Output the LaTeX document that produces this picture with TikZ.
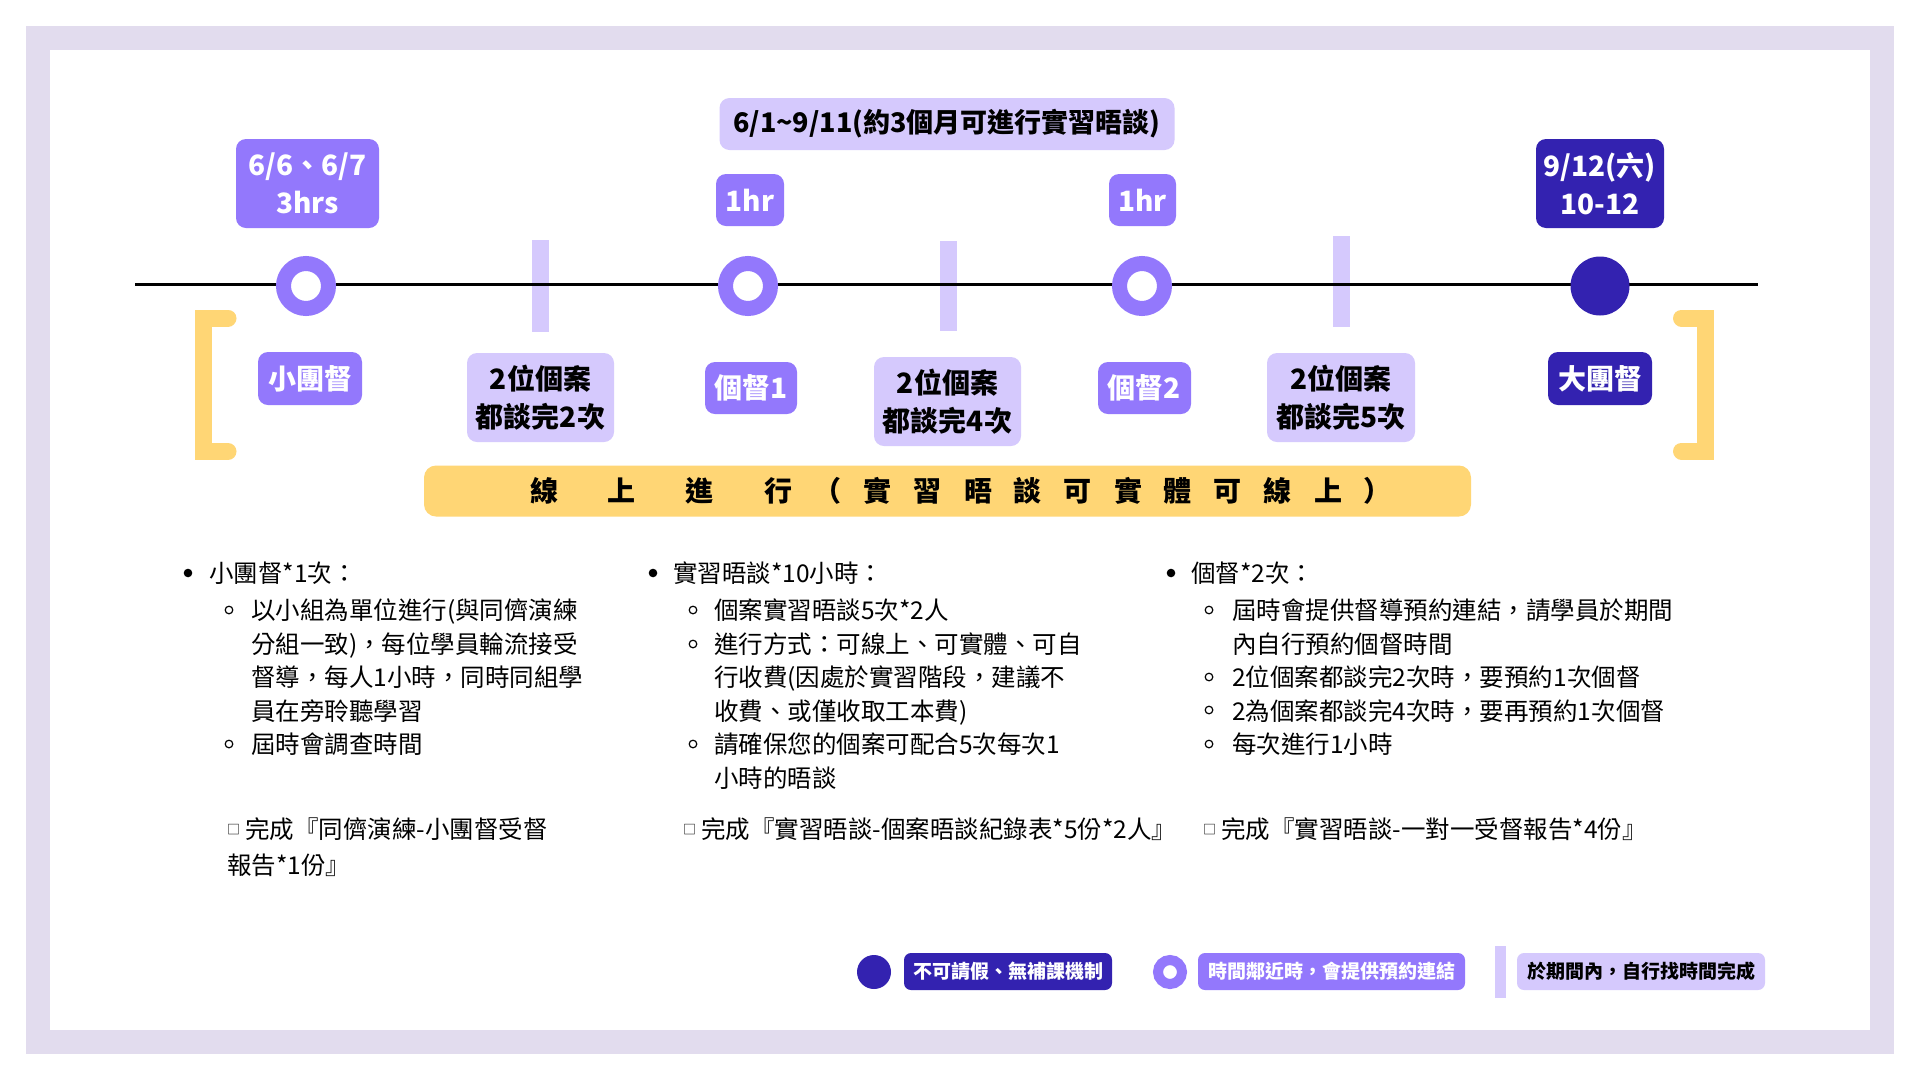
\documentclass[tikz,border=0pt]{standalone}
\usepackage{fontspec}
\setmainfont{Noto Sans CJK TC}
\definecolor{framecol}{HTML}{E2DCEE}
\definecolor{midpurple}{HTML}{9378FC}
\definecolor{lightpurple}{HTML}{D5C9FD}
\definecolor{darkpurple}{HTML}{3322B0}
\definecolor{bannercol}{HTML}{FFD675}
\newcommand{\wgap}{\hspace{50pt}}
\newcommand{\ngap}{\hspace{22pt}}
\newcommand{\sqbox}{\raisebox{4pt}{\fontsize{13}{13}\selectfont □}\hspace{5pt}}
\tikzset{
  tag/.style={rounded corners=10pt,inner sep=0pt,align=center,font=\fontsize{28}{38}\selectfont\bfseries},
  midtag/.style={tag,fill=midpurple,text=white},
  lighttag/.style={tag,fill=lightpurple,text=black},
  darktag/.style={tag,fill=darkpurple,text=white},
  keytag/.style={rounded corners=7pt,inner sep=0pt,minimum height=37pt,font=\fontsize{19}{19}\selectfont\bfseries},
  ring/.style={circle,draw=midpurple,fill=white,inner sep=0pt},
  dot/.style={circle,fill=darkpurple,inner sep=0pt},
  bar/.style={rectangle,fill=lightpurple,inner sep=0pt},
  body/.style={anchor=base west,inner sep=0pt,align=left,font=\fontsize{24.5}{33.5}\selectfont},
  todo/.style={anchor=base west,inner sep=0pt,align=left,font=\fontsize{24.5}{36}\selectfont},
  bracket/.style={draw=bannercol,line width=17pt,line cap=round},
}
\begin{document}
\begin{tikzpicture}[x=1pt,y=-1pt]
\pgfmathsetmacro{\ktly}{286}
\pgfmathsetmacro{\kring}{15}
\useasboundingbox (0,0) rectangle (1920,1080);
\fill[framecol] (26,26) rectangle (1894,1054);
\fill[white] (50,50) rectangle (1870,1030);

\node[lighttag,minimum width=455pt,minimum height=52pt] (period) at (947,124) {\fontsize{27}{27}\selectfont 6/1\textasciitilde 9/11(約3個月可進行實習晤談)};
\node[midtag,minimum width=143pt,minimum height=89pt] (d67) at (307.5,183.5) {6/6、6/7\\3hrs};
\node[midtag,minimum width=68pt,minimum height=52pt] (hr1) at (750,200) {1hr};
\node[midtag,minimum width=67pt,minimum height=52pt] (hr2) at (1142.5,200) {1hr};
\node[darktag,minimum width=128pt,minimum height=89pt] (d912) at (1600,183.5) {9/12(六)\\10-12};

\coordinate (tlstart) at (135,284.5);
\coordinate (tlend) at (1758,284.5);
\node[bar,minimum width=17pt,minimum height=92pt] (bar1) at (540,286) {};
\node[bar,minimum width=17pt,minimum height=90pt] (bar2) at (948,286) {};
\node[bar,minimum width=17pt,minimum height=91pt] (bar3) at (1341,281.5) {};
\draw[line width=3pt] (tlstart) -- (tlend);
\node[ring,line width=\kring pt,minimum size=45pt] (r1) at (306,\ktly) {};
\node[ring,line width=\kring pt,minimum size=45pt] (r2) at (748,\ktly) {};
\node[ring,line width=\kring pt,minimum size=45pt] (r3) at (1142,\ktly) {};
\node[dot,minimum size=59pt] (big) at (1600,\ktly) {};

\draw[bracket,line join=miter] (228,318) -- (203.5,318) -- (203.5,451.5) -- (228,451.5);
\draw[bracket,line join=miter] (1681.5,318) -- (1705.5,318) -- (1705.5,451) -- (1681.5,451);

\node[midtag,minimum width=104pt,minimum height=53pt] (small) at (310,378.5) {小團督};
\node[lighttag,minimum width=147pt,minimum height=89pt] (case2) at (540.5,397.5) {2位個案\\都談完2次};
\node[midtag,minimum width=92pt,minimum height=52pt] (ind1) at (751,388) {個督1};
\node[lighttag,minimum width=147pt,minimum height=89pt] (case4) at (947.5,401.5) {2位個案\\都談完4次};
\node[midtag,minimum width=93pt,minimum height=52pt] (ind2) at (1144.5,388) {個督2};
\node[lighttag,minimum width=148pt,minimum height=89pt] (case5) at (1341,397.5) {2位個案\\都談完5次};
\node[darktag,minimum width=104pt,minimum height=53pt] (group) at (1600,378.5) {大團督};

\node[rounded corners=12pt,fill=bannercol,minimum width=1047pt,minimum height=51pt] (banner) at (947.5,491) {};
\node[inner sep=0pt,font=\fontsize{28}{28}\selectfont\bfseries] (bannertext) at (961,491) {線\wgap 上\wgap 進\wgap 行\ngap （\ngap 實\ngap 習\ngap 晤\ngap 談\ngap 可\ngap 實\ngap 體\ngap 可\ngap 線\ngap 上\ngap ）};

\fill (188,573) circle (4.3) (653,573) circle (4.3) (1171,573) circle (4.3);
\foreach \bx/\by in {229/610,229/744,693/610,693/644,693/744,1209/610,1209/677,1209/710,1209/744}
  \draw[line width=1.2pt] (\bx,\by) circle (3.8);

\node[body] (c1h) at (209,582) {小團督*1次：};
\node[body] (c1a) at (251,720) {以小組為單位進行(與同儕演練\\分組一致)，每位學員輪流接受\\督導，每人1小時，同時同組學\\員在旁聆聽學習};
\node[body] (c1b) at (251,753.5) {屆時會調查時間};
\node[todo] (c1t) at (227,874) {\sqbox 完成『同儕演練-小團督受督\\報告*1份』};

\node[body] (c2h) at (673,582) {實習晤談*10小時：};
\node[body] (c2a) at (714,619.5) {個案實習晤談5次*2人};
\node[body] (c2b) at (714,720) {進行方式：可線上、可實體、可自\\行收費(因處於實習階段，建議不\\收費、或僅收取工本費)};
\node[body] (c2c) at (714,787) {請確保您的個案可配合5次每次1\\小時的晤談};
\node[todo] (c2t) at (683,838) {\sqbox 完成『實習晤談-個案晤談紀錄表*5份*2人』};

\node[body] (c3h) at (1191,582) {個督*2次：};
\node[body] (c3a) at (1232,653) {屆時會提供督導預約連結，請學員於期間\\內自行預約個督時間};
\node[body] (c3b) at (1232,686.5) {2位個案都談完2次時，要預約1次個督};
\node[body] (c3c) at (1232,720) {2為個案都談完4次時，要再預約1次個督};
\node[body] (c3d) at (1232,753.5) {每次進行1小時};
\node[todo] (c3t) at (1203,838) {\sqbox 完成『實習晤談-一對一受督報告*4份』};

\node[dot,minimum size=34pt] (keydot) at (874,972) {};
\node[keytag,fill=darkpurple,text=white,minimum width=208pt] (key1) at (1008,971.5) {不可請假、無補課機制};
\node[ring,line width=10pt,minimum size=24pt] (keyring) at (1170,972) {};
\node[keytag,fill=midpurple,text=white,minimum width=267pt] (key2) at (1331.5,971.5) {時間鄰近時，會提供預約連結};
\node[bar,minimum width=11pt,minimum height=52pt] (keybar) at (1500.5,972) {};
\node[keytag,fill=lightpurple,text=black,minimum width=248pt] (key3) at (1641,971.5) {於期間內，自行找時間完成};
\end{tikzpicture}
\end{document}
